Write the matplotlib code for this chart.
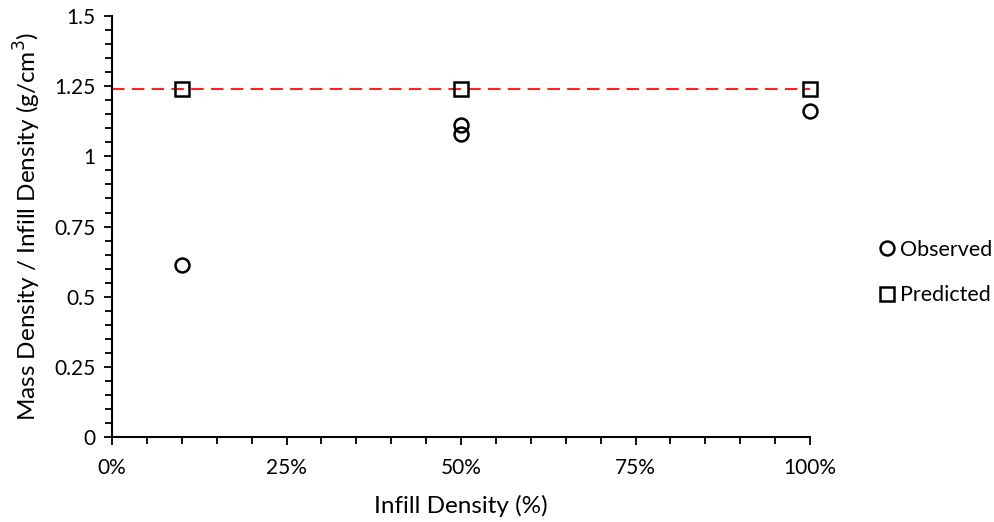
import matplotlib.pyplot as plt
from matplotlib.ticker import MultipleLocator, FuncFormatter

plt.rcParams["font.family"] = ["Lato", "DejaVu Sans"]

# data
obs_x = [10, 50, 50, 100]
obs_y = [0.613, 1.112, 1.080, 1.162]
pred_x = [10, 50, 100]
pred_y = [1.24, 1.24, 1.24]
ref_line = 1.24

fig = plt.figure(figsize=(9.95, 5.22), dpi=100)
ax = fig.add_axes([0.1126, 0.163, 0.7015, 0.806])

ax.axhline(ref_line, color="#ff2020", lw=1.5, ls=(0, (6, 3.5)), zorder=1)
ax.plot(obs_x, obs_y, ls="none", marker="o", ms=10, mfc="none", mec="black",
        mew=1.8, label="Observed", zorder=3, clip_on=False)
ax.plot(pred_x, pred_y, ls="none", marker="s", ms=10, mfc="none", mec="black",
        mew=1.8, label="Predicted", zorder=3, clip_on=False)

ax.set_xlim(0, 100)
ax.set_ylim(0, 1.5)
ax.xaxis.set_major_locator(MultipleLocator(25))
ax.xaxis.set_minor_locator(MultipleLocator(5))
ax.yaxis.set_major_locator(MultipleLocator(0.25))
ax.yaxis.set_minor_locator(MultipleLocator(0.05))
ax.xaxis.set_major_formatter(FuncFormatter(lambda v, p: f"{v:.0f}%"))
ax.yaxis.set_major_formatter(FuncFormatter(lambda v, p: f"{v:g}"))

for s in ["top", "right"]:
    ax.spines[s].set_visible(False)
for s in ["left", "bottom"]:
    ax.spines[s].set_linewidth(1.5)
ax.tick_params(which="both", direction="out", width=1.3, labelsize=15)
ax.tick_params(which="major", length=6)
ax.tick_params(axis="x", which="major", pad=9)
ax.tick_params(axis="y", which="major", pad=6)
ax.tick_params(which="minor", length=5)

ax.set_xlabel("Infill Density (%)", fontsize=17.5, labelpad=12)
ax.set_ylabel("Mass Density / Infill Density (g/cm$^3$)", fontsize=17.5, labelpad=8)

fig.legend(loc="center left", bbox_to_anchor=(0.859, 0.478), frameon=False,
           fontsize=15.5, handletextpad=0.0, handlelength=1.2, labelspacing=1.2)

fig.savefig("out.png", dpi=100)
